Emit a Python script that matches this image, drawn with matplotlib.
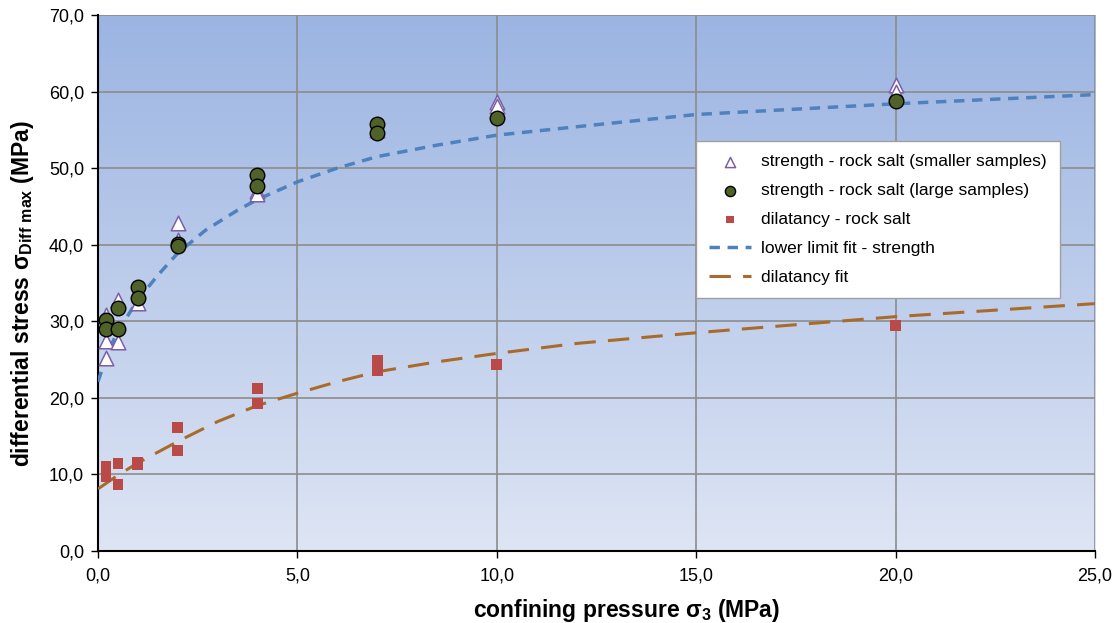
import matplotlib
matplotlib.use('Agg')
import matplotlib.pyplot as plt
import numpy as np
from matplotlib.colors import LinearSegmentedColormap
from matplotlib.ticker import FuncFormatter

plt.rcParams['font.family'] = ['Liberation Sans', 'DejaVu Sans']
plt.rcParams['mathtext.fontset'] = 'custom'
plt.rcParams['mathtext.rm'] = 'Liberation Sans'
plt.rcParams['mathtext.bf'] = 'Liberation Sans:bold'

# strength - smaller samples (triangles)
small_x = [0.2, 0.2, 0.2, 0.5, 0.5, 1.0, 2.0, 2.0, 4.0, 4.0, 7.0, 10.0, 10.0, 20.0, 20.0]
small_y = [30.8, 27.4, 25.2, 32.8, 27.3, 32.4, 42.8, 40.6, 47.0, 46.6, 55.0, 58.6, 58.1, 60.9, 59.9]

# strength - large samples (circles)
large_x = [0.2, 0.2, 0.5, 0.5, 1.0, 1.0, 2.0, 2.0, 4.0, 4.0, 7.0, 7.0, 10.0, 20.0]
large_y = [30.1, 29.0, 31.7, 29.0, 34.5, 33.1, 40.1, 39.8, 49.1, 47.7, 55.8, 54.6, 56.6, 58.7]

# dilatancy (squares)
dil_x = [0.2, 0.2, 0.5, 0.5, 1.0, 1.0, 2.0, 2.0, 4.0, 4.0, 7.0, 7.0, 7.0, 10.0, 20.0]
dil_y = [11.1, 9.7, 11.4, 8.7, 11.3, 11.6, 16.1, 13.1, 21.2, 19.3, 24.9, 24.3, 23.6, 24.4, 29.4]

# fit curves
fit_s_x = [0, 0.25, 0.5, 1, 1.5, 2, 2.7, 3.5, 4, 5, 6, 7, 8.5, 10, 12, 15, 20, 25]
fit_s_y = [22.1, 26.0, 28.7, 32.8, 36.0, 38.9, 41.9, 44.5, 45.9, 48.2, 50.0, 51.5, 53.0, 54.3, 55.4, 57.0, 58.4, 59.6]
fit_d_x = [0, 0.5, 1, 2, 3, 4, 5, 6, 7, 8.5, 10, 12, 15, 20, 25]
fit_d_y = [8.1, 9.9, 11.5, 14.3, 16.9, 19.0, 20.6, 22.1, 23.4, 24.7, 25.8, 27.1, 28.5, 30.6, 32.3]

fig = plt.figure(figsize=(11.17, 6.23), dpi=100)
ax = fig.add_axes([0.0877, 0.1156, 0.8926, 0.8604])

cmap = LinearSegmentedColormap.from_list('bg', ['#dee5f4', '#9bb4e2'])
grad = np.linspace(0, 1, 256).reshape(-1, 1)
ax.imshow(grad, cmap=cmap, aspect='auto', origin='lower',
          extent=[0, 25, 0, 70], zorder=0)

ax.set_xlim(0, 25)
ax.set_ylim(0, 70)
ax.set_xticks(np.arange(0, 26, 5))
ax.set_yticks(np.arange(0, 71, 10))
fmt = FuncFormatter(lambda v, p: ('%.1f' % v).replace('.', ','))
ax.xaxis.set_major_formatter(fmt)
ax.yaxis.set_major_formatter(fmt)
ax.grid(True, color='#8c8c8c', linewidth=1.2, zorder=1)
ax.set_axisbelow(True)
for s in ['top', 'right']:
    ax.spines[s].set_visible(False)
for s in ['left', 'bottom']:
    ax.spines[s].set_linewidth(1.5)
ax.tick_params(direction='out', length=5, width=1, labelsize=13, colors='black')
ax.tick_params(axis='x', pad=7)
ax.tick_params(axis='y', pad=5)

ax.plot(fit_s_x, fit_s_y, color='#4f81bd', linewidth=2.5, dashes=(3, 2.2),
        label='lower limit fit - strength', zorder=3)
ax.plot(fit_d_x, fit_d_y, color='#a96b2c', linewidth=2.2, dashes=(7, 4),
        label='dilatancy fit', zorder=3)
ax.scatter(small_x, small_y, marker='^', s=110, facecolor='white',
           edgecolor='#7a5fa8', linewidth=1.1, label='strength - rock salt (smaller samples)', zorder=4)
ax.scatter(large_x, large_y, marker='o', s=110, facecolor='#4f6228',
           edgecolor='black', linewidth=1.0, label='strength - rock salt (large samples)', zorder=5)
ax.scatter(dil_x, dil_y, marker='s', s=60, facecolor='#b94a48',
           edgecolor='none', label='dilatancy - rock salt', zorder=4)

h, l = ax.get_legend_handles_labels()
order = [2, 3, 4, 0, 1]
leg = ax.legend([h[i] for i in order], [l[i] for i in order],
                loc='upper left', bbox_to_anchor=(0.600, 0.765), borderaxespad=0,
                fontsize=12.5, frameon=True, fancybox=False,
                edgecolor='#a0a0a0', framealpha=1, borderpad=0.75,
                labelspacing=0.8, handlelength=2.4, handletextpad=0.6,
                markerscale=0.7)
leg.get_frame().set_linewidth(1)

ax.set_xlabel(r'confining pressure $\mathbf{\sigma_3}$ (MPa)', fontsize=16.5,
              fontweight='bold', labelpad=8)
ax.set_ylabel(r'differential stress $\mathbf{\sigma_{Diff\ max}}$ (MPa)', fontsize=16.5,
              fontweight='bold', labelpad=9)
ax.xaxis.set_label_coords(0.53, -0.085)
ax.yaxis.set_label_coords(-0.062, 0.48)

fig.savefig('out.png', dpi=100)
